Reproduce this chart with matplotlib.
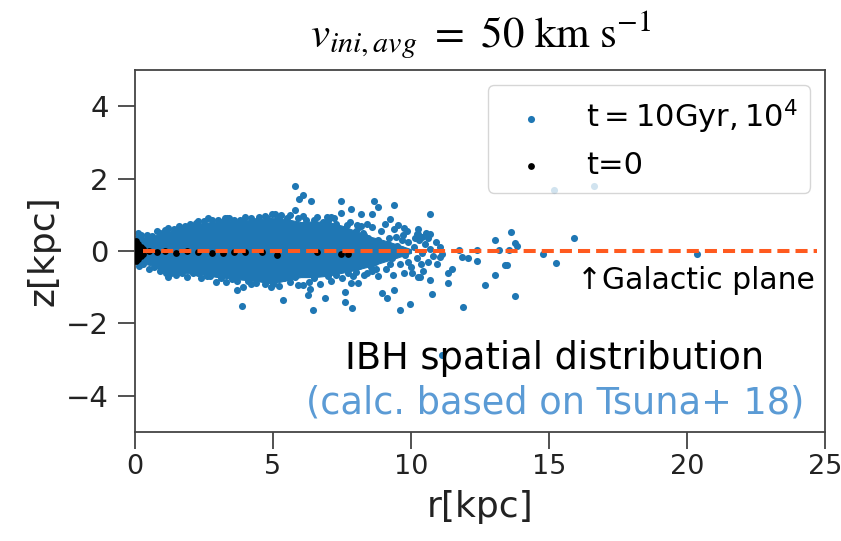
import matplotlib
matplotlib.use('Agg')
import matplotlib.pyplot as plt

# IBH positions after 10 Gyr (points that stand apart)
r_10gyr = [1.21, 1.81, 2.29, 2.63, 3.26, 3.32, 4.80, 4.97, 5.06, 5.80, 6.07, 5.94,
           6.36, 5.80, 6.10, 6.94, 7.45, 7.81, 7.45, 7.69, 8.05, 8.18, 8.60, 8.67,
           8.82, 9.40, 9.25, 9.52, 9.76, 10.20, 10.27, 10.39, 10.69, 10.69, 9.66,
           11.75, 11.84, 12.05, 11.11, 11.05, 12.40, 12.40, 13.04, 13.20, 13.62, 13.77,
           13.85, 13.55, 13.41, 13.49, 14.77, 15.25, 15.91, 15.18, 16.63, 20.35,
           1.12, 2.93, 3.68, 3.87, 3.92, 4.93, 5.37, 6.10, 6.26, 6.35, 6.44, 6.88,
           7.61, 7.61, 7.87, 7.81, 8.09, 8.95, 9.12, 9.40, 9.60, 9.96, 10.27, 10.33,
           10.69, 10.75, 11.33, 11.33, 11.47, 11.90, 12.68, 13.04, 13.77, 11.11,
           8.3, 8.5, 8.7, 8.9, 9.0, 9.1, 9.2, 9.3, 9.4, 9.5, 9.6, 9.7, 9.8, 9.9,
           10.0, 10.1, 10.2, 10.3, 10.4, 10.5, 10.6, 10.7, 10.8, 8.4, 8.8, 9.35,
           9.75, 10.05, 10.45, 8.2, 8.6, 9.05, 9.85, 10.25, 10.55, 8.1, 8.35, 8.95,
           9.55, 10.9, 10.95, 11.05,
           0.2, 0.6, 0.9, 1.4, 2.0, 2.5, 3.0, 3.6, 4.2, 4.5, 5.3, 5.5, 6.5, 7.0,
           7.2, 7.6, 8.0, 0.3, 0.7, 1.3, 1.7, 2.3, 2.6, 3.1, 3.5, 4.1, 4.4, 5.0,
           5.4, 5.8, 6.5, 7.0, 7.3, 7.7, 8.0,
           0.1, 0.45, 0.8, 1.1, 1.6, 1.9, 2.2, 2.8, 3.1, 3.4, 3.8, 4.0, 4.4, 4.7,
           5.2, 5.6, 5.9, 6.2, 6.6, 6.8, 7.1, 7.3, 7.8, 8.1, 8.4,
           0.15, 0.5, 0.9, 1.2, 1.5, 1.9, 2.1, 2.4, 2.7, 3.3, 3.7, 4.2, 4.7, 5.2,
           5.6, 5.9, 6.3, 6.7, 7.1, 7.5, 7.9, 8.3, 8.6,
           7.6, 7.8, 8.0, 8.2, 8.45, 8.55, 8.8, 8.85, 9.15, 9.25, 9.45, 9.65, 9.9,
           10.15, 10.35, 10.6, 7.7, 8.25, 8.75, 9.3]
z_10gyr = [0.63, 0.69, 0.83, 0.90, 0.90, 0.90, 0.90, 1.01, 1.03, 1.80, 1.55, 1.43,
           1.38, 1.12, 0.98, 0.93, 1.38, 1.16, 1.05, 0.73, 0.73, 1.01, 1.01, 1.38,
           1.22, 1.27, 0.89, 0.73, 0.63, 0.46, 0.46, 0.40, 0.46, 1.01, 0.30,
           0.04, -0.17, -0.18, -0.08, -0.17, 0.04, -0.28, 0.31, 0.04, 0.53, 0.22,
           0.14, 0.04, -0.38, -0.38, -0.08, -0.34, 0.35, 1.69, 1.80, -0.08,
           -0.60, -0.85, -1.08, -1.52, -0.99, -0.99, -1.35, -0.93, -1.22, -1.04, -1.62, -1.29,
           -1.12, -1.40, -1.58, -0.87, -0.87, -1.17, -1.31, -1.08, -1.62, -1.46, -0.72, -0.72,
           -0.81, -1.20, -0.60, -0.87, -0.49, -1.56, -0.93, -0.65, -1.24, -2.88,
           0.45, 0.2, -0.3, 0.55, 0.1, -0.5, 0.35, -0.2, 0.6, 0.15, -0.35, 0.45, -0.1, 0.25,
           -0.45, 0.1, -0.2, 0.3, -0.05, 0.2, -0.3, 0.05, -0.15, -0.6, -0.7, -0.65,
           -0.6, -0.6, -0.55, 0.7, 0.65, 0.75, 0.55, 0.6, 0.5, -0.4, 0.0, -0.05,
           -0.05, 0.25, -0.35, 0.1,
           0.45, 0.42, 0.5, 0.6, 0.75, 0.82, 0.86, 0.87, 0.9, 0.95, 1.0, 0.92, 0.85, 0.82,
           0.9, 0.62, 0.55, -0.35, -0.45, -0.62, -0.6, -0.62, -0.7, -0.75, -0.78, -0.82, -0.88, -0.92,
           -0.75, -0.72, -0.75, -0.7, -0.66, -0.6, -0.58,
           0.5, 0.45, 0.55, 0.58, 0.7, 0.62, 0.78, 0.85, 0.8, 0.92, 0.85, 0.95, 0.84, 0.97,
           0.92, 1.0, 0.9, 0.85, 0.95, 0.8, 0.95, 0.75, 0.8, 0.65, 0.75,
           -0.4, -0.5, -0.55, -0.72, -0.65, -0.72, -0.6, -0.75, -0.68, -0.85, -0.82, -0.92, -0.9, -0.98,
           -0.85, -0.95, -0.85, -0.9, -0.82, -0.75, -0.7, -0.65, -0.55,
           0.3, -0.3, 0.2, -0.15, 0.35, -0.45, 0.3, -0.2, 0.2, -0.35, 0.4, 0.05, -0.3,
           0.35, -0.35, 0.35, 0.5, 0.5, -0.5, 0.05]

# where the dots merge into one blob: r and upper / lower edge of it
core_r = [0.0, 0.3, 0.6, 1.0, 1.5, 2.0, 2.5, 3.0, 3.5, 4.0, 4.5, 5.0, 5.5,
          6.0, 6.5, 7.0, 7.5, 8.0, 8.5, 9.0, 9.5, 10.0]
core_top = [0.42, 0.38, 0.40, 0.50, 0.62, 0.72, 0.78, 0.82, 0.84, 0.86, 0.88, 0.92, 0.88,
            0.80, 0.82, 0.80, 0.70, 0.55, 0.40, 0.30, 0.18, 0.05]
core_bot = [-0.32, -0.34, -0.40, -0.55, -0.60, -0.62, -0.66, -0.72, -0.76, -0.80, -0.84, -0.90, -0.80,
            -0.72, -0.72, -0.68, -0.60, -0.52, -0.42, -0.30, -0.18, -0.05]

# initial positions (t=0)
r_t0 = [0.05, 0.05, 0.05, 0.05, 0.05, 0.12, 0.12, 0.12, 0.12, 0.2, 0.2, 0.2, 0.28, 0.28,
        0.5, 0.8, 1.1, 1.5, 1.9, 2.3, 2.8, 3.2, 3.6, 4.0, 4.6, 5.16, 6.58, 7.45, 7.73]
z_t0 = [0.28, 0.15, 0.0, -0.15, -0.28, 0.2, 0.05, -0.1, -0.22, 0.1, -0.05, -0.15, 0.05, -0.08,
        0.0, -0.03, 0.0, -0.05, 0.0, -0.04, -0.06, -0.05, -0.04, -0.02, -0.03, -0.1, -0.02, -0.08, -0.08]

# galactic plane
plane_r = [0.3, 24.7]
plane_z = [0, 0]

blue = '#1f77b4'

fig = plt.figure(figsize=(8.41, 5.41), dpi=100)
ax = fig.add_axes([0.1605, 0.2015, 0.8205, 0.669])

ax.fill_between(core_r, core_bot, core_top, color=blue, lw=0.8, zorder=2)
ax.scatter(r_10gyr, z_10gyr, s=26, color=blue, linewidths=0, zorder=2,
           label=r'$\mathrm{t = 10Gyr, 10^4}$')
ax.scatter(r_t0, z_t0, s=24, color='black', linewidths=0, zorder=3, label='t=0')
ax.plot(plane_r, plane_z, color='#ff5a1f', lw=2.9, dashes=(3, 1.5), zorder=4)

ax.set_xlim(0, 25)
ax.set_ylim(-5, 5)
ax.set_xticks([0, 5, 10, 15, 20, 25])
ax.set_yticks([-4, -2, 0, 2, 4])
ax.tick_params(length=12, width=1.2, labelsize=21, color='#333333',
               labelcolor='#222222')
ax.tick_params(axis='y', pad=7)
ax.tick_params(axis='x', pad=4, labelsize=19.5)
for sp in ax.spines.values():
    sp.set_linewidth(1.3)
    sp.set_color('#444444')

ax.set_xlabel('r[kpc]', fontsize=26, color='#222222', labelpad=7)
ax.set_ylabel('z[kpc]', fontsize=26, color='#222222', labelpad=4)

leg = ax.legend(loc='upper right', fontsize=22)

# slide-style annotations
fig.text(0.571, 0.935, r'$v_{ini,avg}\ =\ 50\ \mathrm{km\ s^{-1}}$', fontsize=31,
         ha='center', va='center', math_fontfamily='stix')
fig.text(0.969, 0.4824, '\u2191Galactic plane', fontsize=21.5, ha='right', va='center')
fig.text(0.66, 0.338, 'IBH spatial distribution', fontsize=26.5, ha='center', va='center')
fig.text(0.66, 0.2551, '(calc. based on Tsuna+ 18)', fontsize=26.5, ha='center',
         va='center', color='#5b9bd5')

plt.savefig('out.png', dpi=100)
